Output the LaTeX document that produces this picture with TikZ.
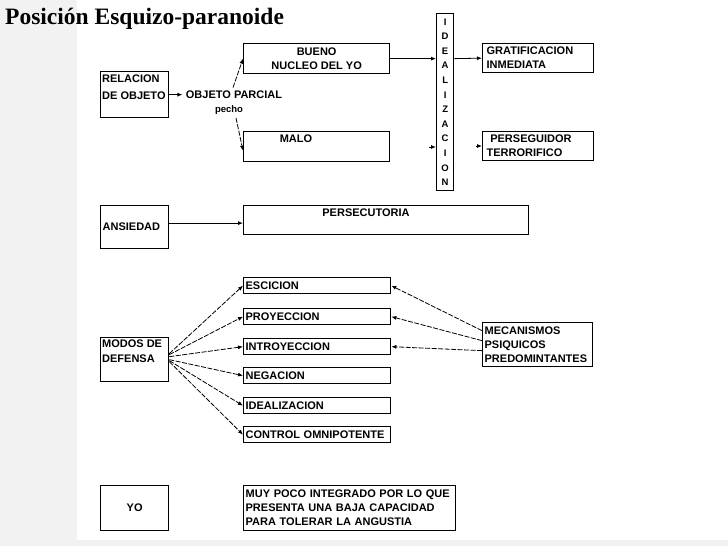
\documentclass[tikz,border=0pt]{standalone}
\usepackage{fontspec}
\setmainfont{Liberation Sans}
\newfontfamily\titulofont{Liberation Serif}
\usetikzlibrary{arrows.meta}

\begin{document}
\begin{tikzpicture}[x=1pt, y=-1pt,
  caja/.style={draw, line width=1.3pt, anchor=north west, inner sep=2pt},
  letra/.style={font=\fontsize{11}{14}\selectfont\bfseries},
  defensa/.style={caja, letra, minimum width=147, minimum height=16, text width=143, align=left, inner ysep=0pt},
  flecha/.style={-{Latex[length=5pt,width=4pt]}, line width=0.8pt},
  punteada/.style={flecha, dash pattern=on 5pt off 1.5pt}]
  % fondo
  \fill[gray!10] (0,0) rectangle (77,546);
  \fill[gray!10] (0,540) rectangle (728,546);
  \useasboundingbox (0,0) rectangle (728,546);
  % titulo
  \node[anchor=west, inner sep=0, font=\titulofont\bfseries\fontsize{23.5}{26}\selectfont] (titulo) at (5,19) {Posición Esquizo-paranoide};

  % relacion de objeto
  \node[caja, minimum width=68, minimum height=46] (rel) at (100,71) {};
  \node[letra, anchor=north west, align=left, inner sep=1pt, font=\fontsize{11}{17}\selectfont\bfseries] (relT) at ([xshift=1pt,yshift=-3pt]rel.north west) {RELACION\\DE OBJETO};
  \node[letra] (obj) at (234,95) {OBJETO PARCIAL};
  \node[letra, font=\fontsize{9.5}{11}\selectfont\bfseries] (pecho) at (229,110) {pecho};
  \draw[flecha] (rel.east) -- (rel.east -| obj.west);

  % bueno y malo
  \node[caja, letra, minimum width=146, minimum height=30, align=center] (bueno) at (243,43) {BUENO\\NUCLEO DEL YO};
  \node[caja, minimum width=146, minimum height=30] (malo) at (243,131) {};
  \node[letra] (maloT) at (296,139) {MALO};
  \draw[punteada] ([xshift=-1pt]obj.north) -- (bueno.west);
  \draw[punteada] ([xshift=7pt]pecho.south) -- ([yshift=-4pt]malo.west);

  % idealizacion
  \node[caja, minimum width=17, minimum height=177, inner sep=0, align=center, font=\fontsize{9.5}{14.6}\selectfont\bfseries] (idea) at (436,13) {I\\D\\E\\A\\L\\I\\Z\\A\\C\\I\\O\\N};
  \draw[flecha] (bueno.east) -- (bueno.east -| idea.west);
  \coordinate (m1) at (429,147);
  \draw[flecha] (m1) -- (m1 -| idea.west);

  % gratificacion y perseguidor
  \node[caja, letra, minimum width=111, minimum height=29, text width=103, inner xsep=4pt, align=left] (grat) at (482,43) {GRATIFICACION\\INMEDIATA};
  \node[caja, letra, minimum width=111, minimum height=29, text width=103, inner xsep=2pt, align=left] (perse) at (482,131) {\ PERSEGUIDOR\\TERRORIFICO};
  \draw[flecha] (idea.east |- bueno.east) -- (grat.west);
  \coordinate (p1) at (476,146);
  \draw[flecha] (p1) -- (p1 -| perse.west);

  % ansiedad
  \node[caja, letra, minimum width=68, minimum height=43, text width=64, inner xsep=1pt, align=left] (ansi) at (100,205) {ANSIEDAD};
  \node[caja, minimum width=285, minimum height=29] (pers) at (243,205) {};
  \node[letra] (persT) at (366,213) {PERSECUTORIA};
  \draw[flecha] ([yshift=4pt]ansi.east) -- ([yshift=4pt]ansi.east -| pers.west);

  % modos de defensa
  \node[caja, minimum width=68, minimum height=44] (modos) at (100,337) {};
  \node[letra, anchor=north west, align=left, inner sep=1pt, font=\fontsize{11}{15}\selectfont\bfseries] (modosT) at ([xshift=1pt,yshift=-2pt]modos.north west) {MODOS DE\\DEFENSA};
  \node[defensa] (esc) at (243,277) {ESCICION};
  \node[defensa] (pro) at (243,308) {PROYECCION};
  \node[defensa] (intro) at (243,338) {INTROYECCION};
  \node[defensa] (neg) at (243,367) {NEGACION};
  \node[defensa] (ideal) at (243,397) {IDEALIZACION};
  \node[defensa] (control) at (243,426) {CONTROL OMNIPOTENTE};
  \draw[punteada] ([yshift=6pt]modos.east) -- (esc.west);
  \draw[punteada] ([yshift=5pt]modos.east) -- (pro.west);
  \draw[punteada] ([yshift=3pt]modos.east) -- (intro.west);
  \draw[punteada] ([yshift=0pt]modos.east) -- (neg.west);
  \draw[punteada] ([yshift=-1pt]modos.east) -- (ideal.west);
  \draw[punteada] ([yshift=-2pt]modos.east) -- (control.west);

  % mecanismos psiquicos
  \node[caja, letra, minimum width=110, minimum height=44, text width=106, align=left] (mec) at (482,322) {MECANISMOS\\PSIQUICOS\\PREDOMINTANTES};
  \draw[punteada] ([yshift=14pt]mec.west) -- (esc.east);
  \draw[punteada] ([yshift=4pt]mec.west) -- (pro.east);
  \draw[punteada] ([yshift=-6pt]mec.west) -- (intro.east);

  % yo
  \node[caja, letra, minimum width=68, minimum height=45] (yo) at (100,485) {YO};
  \node[caja, letra, minimum width=212, minimum height=45, text width=208, align=left] (muy) at (243,485) {MUY POCO INTEGRADO POR LO QUE\\PRESENTA UNA BAJA CAPACIDAD\\PARA TOLERAR LA ANGUSTIA};
\end{tikzpicture}
\end{document}
